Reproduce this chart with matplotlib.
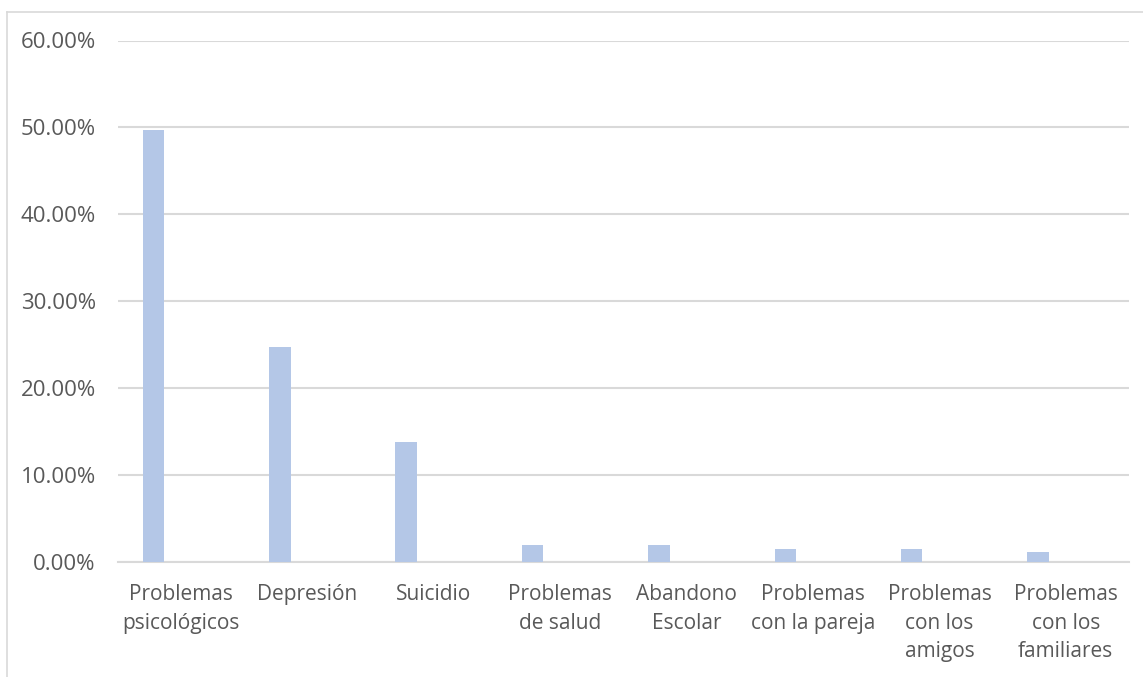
import matplotlib
matplotlib.use("Agg")
import matplotlib.pyplot as plt
from matplotlib.lines import Line2D
from matplotlib.ticker import FuncFormatter
import numpy as np

# Data
categories = [
    "Problemas\npsicológicos",
    "Depresión",
    "Suicidio",
    "Problemas\nde salud",
    "Abandono\nEscolar",
    "Problemas\ncon la pareja",
    "Problemas\ncon los\namigos",
    "Problemas\ncon los\nfamiliares",
]
values = [0.497, 0.247, 0.138, 0.0195, 0.0195, 0.0153, 0.0153, 0.0115]
y_ticks = [0.0, 0.1, 0.2, 0.3, 0.4, 0.5, 0.6]

plt.rcParams["font.family"] = ["Open Sans", "DejaVu Sans"]
text_color = "#595959"
grid_color = "#d9d9d9"
bar_color = "#b4c7e7"

W, H = 1143, 677
fig = plt.figure(figsize=(W / 100, H / 100), dpi=100)
fig.patch.set_facecolor("white")

# Outer chart-area border (only top and left edges fall inside the canvas)
fig.add_artist(Line2D([6.5 / W, 6.5 / W], [0, 1 - 11.5 / H], transform=fig.transFigure,
                      color=grid_color, lw=1.2))
fig.add_artist(Line2D([6.5 / W, 1], [1 - 11.5 / H, 1 - 11.5 / H], transform=fig.transFigure,
                      color=grid_color, lw=1.2))

left, right = 118 / W, 1129 / W
bottom, top = (H - 562.3) / H, (H - 40.5) / H
ax = fig.add_axes([left, bottom, right - left, top - bottom])

x = np.arange(len(categories))
ax.bar(x - 0.22, values, width=0.17, color=bar_color, zorder=3)

ax.set_xlim(-0.5, len(categories) - 0.5)
ax.set_ylim(0, 0.6)
ax.set_yticks(y_ticks)
ax.yaxis.set_major_formatter(FuncFormatter(lambda v, _: f"{v * 100:.2f}%"))
ax.grid(axis="y", color=grid_color, lw=1.5, zorder=0)
ax.set_axisbelow(True)

ax.set_xticks(x)
ax.set_xticklabels(categories, linespacing=1.48)

for s in ["top", "right", "left"]:
    ax.spines[s].set_visible(False)
ax.spines["bottom"].set_color(grid_color)
ax.spines["bottom"].set_linewidth(1.5)

ax.tick_params(axis="y", length=0, pad=16, labelsize=16, labelcolor=text_color)
ax.tick_params(axis="x", length=0, pad=15.5, labelsize=15, labelcolor=text_color)

fig.savefig("out.png", dpi=100, facecolor="white")
